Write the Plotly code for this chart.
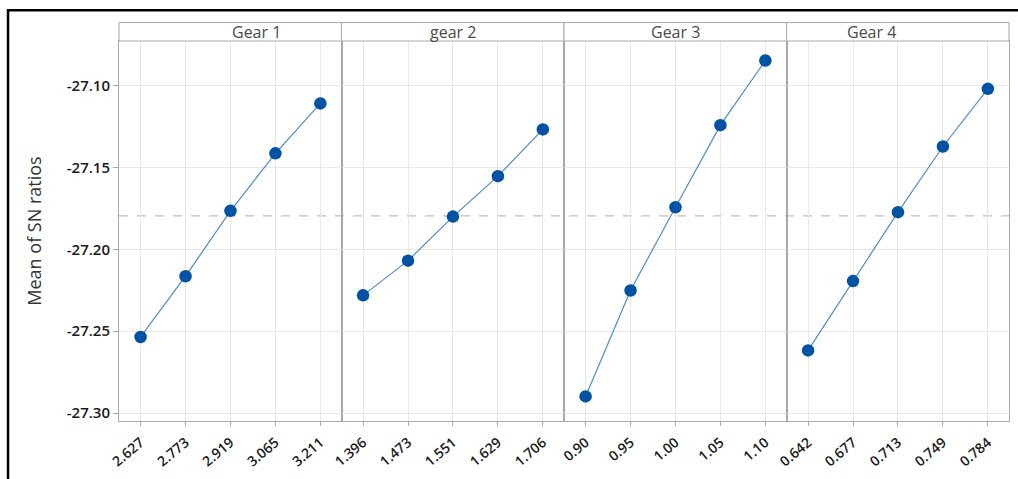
import plotly.graph_objects as go
from plotly.subplots import make_subplots

# Main-effects plot for SN ratios, one panel per factor
panel_titles = ["Gear 1", "gear 2", "Gear 3", "Gear 4"]

gear1_levels = ["2.627", "2.773", "2.919", "3.065", "3.211"]
gear2_levels = ["1.396", "1.473", "1.551", "1.629", "1.706"]
gear3_levels = ["0.90", "0.95", "1.00", "1.05", "1.10"]
gear4_levels = ["0.642", "0.677", "0.713", "0.749", "0.784"]

gear1_sn = [-27.2535, -27.2164, -27.1765, -27.1414, -27.1109]
gear2_sn = [-27.2281, -27.2069, -27.1800, -27.1553, -27.1268]
gear3_sn = [-27.2898, -27.2251, -27.1743, -27.1242, -27.0847]
gear4_sn = [-27.2617, -27.2194, -27.1773, -27.1372, -27.1020]

y_ticks = [-27.30, -27.25, -27.20, -27.15, -27.10]

levels = [gear1_levels, gear2_levels, gear3_levels, gear4_levels]
values = [gear1_sn, gear2_sn, gear3_sn, gear4_sn]

all_vals = [v for series in values for v in series]
grand_mean = sum(all_vals) / len(all_vals)

W, H = 1018, 479
L, R, T, B = 119, 8.7, 40.7, 58.3
plot_w = W - L - R
plot_h = H - T - B

def px_x(px):
    return (px - L) / plot_w

def px_y(py):
    return 1 - (py - T) / plot_h

FONT = "Open Sans"
MARK = "#0052a5"
LINE = "#4f8ccc"
GRID = "#e8e8e8"
FRAME = "#a8a8a8"

fig = make_subplots(rows=1, cols=4, shared_yaxes=True, horizontal_spacing=0)

for i, (lv, vals) in enumerate(zip(levels, values), start=1):
    fig.add_trace(
        go.Scatter(
            x=lv, y=vals, mode="lines+markers",
            line=dict(color=LINE, width=1.2),
            marker=dict(color=MARK, size=12.5, symbol="circle"),
            showlegend=False, hoverinfo="x+y",
        ),
        row=1, col=i,
    )
    fig.update_xaxes(
        type="category", range=[-0.48, 4.47],
        showgrid=True, gridcolor=GRID, gridwidth=1,
        showline=True, mirror=True, linecolor=FRAME, linewidth=1,
        ticks="outside", ticklen=4, tickcolor=FRAME,
        tickangle=-40, ticklabelstandoff=3,
        tickfont=dict(family=FONT, size=14, color="#1a1a1a", weight=600),
        zeroline=False, row=1, col=i,
    )
    # header strip
    dom = fig.layout[f"xaxis{'' if i == 1 else i}"].domain
    fig.add_shape(
        type="rect", xref="paper", yref="paper",
        x0=dom[0], x1=dom[1], y0=1, y1=px_y(22.3),
        line=dict(color=FRAME, width=1), fillcolor="white", layer="above",
    )
    fig.add_annotation(
        xref="paper", yref="paper", x=(dom[0] + dom[1]) / 2, y=(1 + px_y(22.3)) / 2,
        text=panel_titles[i - 1], showarrow=False, yanchor="middle",
        font=dict(family=FONT, size=16, color="#4a4a4a"),
    )

fig.update_yaxes(
    range=[-27.3048, -27.0728], tickvals=y_ticks,
    ticktext=[f"{v:.2f}" for v in y_ticks],
    showgrid=True, gridcolor=GRID, gridwidth=1,
    showline=True, mirror=True, linecolor=FRAME, linewidth=1,
    zeroline=False,
)
fig.update_yaxes(
    ticks="outside", ticklen=5, tickcolor=FRAME,
    tickfont=dict(family=FONT, size=15, color="#1a1a1a", weight=600),
    title=dict(text="Mean of SN ratios", standoff=20,
               font=dict(family=FONT, size=18, color="#333")),
    row=1, col=1,
)

# grand mean reference line
fig.add_shape(
    type="line", xref="paper", yref="y", x0=0, x1=1,
    y0=grand_mean, y1=grand_mean,
    line=dict(color="#bdbdbd", width=1.2, dash="dash"), layer="between",
)

# outer black frame
fig.add_shape(
    type="line", xref="paper", yref="paper",
    x0=px_x(8), x1=px_x(8), y0=px_y(9.5), y1=px_y(490),
    line=dict(color="black", width=2.5), layer="above",
)
fig.add_shape(
    type="line", xref="paper", yref="paper",
    x0=px_x(6.8), x1=px_x(1030), y0=px_y(10), y1=px_y(10),
    line=dict(color="black", width=2.5), layer="above",
)

fig.update_layout(
    width=W, height=H, autosize=False,
    margin=dict(l=L, r=R, t=T, b=B),
    paper_bgcolor="white", plot_bgcolor="white",
    font=dict(family=FONT),
)

fig.write_html("out.html")
